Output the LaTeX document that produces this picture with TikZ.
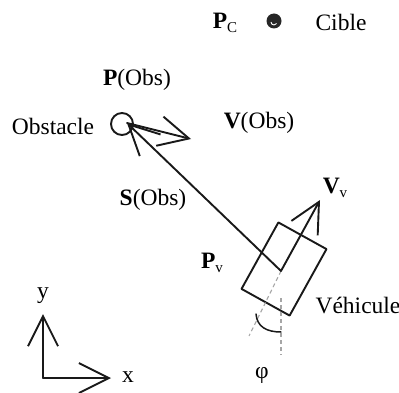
\documentclass[tikz,border=0pt]{standalone}
\usepackage{fontspec}
\setmainfont{Liberation Serif}
\usetikzlibrary{arrows.meta}
\newcommand\sbs[1]{\raisebox{-0.35ex}{\fontsize{15}{15}\selectfont #1}}
\begin{document}
\begin{tikzpicture}[x=1pt,y=-1pt,
  lbl/.style={inner sep=1pt,font=\fontsize{23.5}{25}\selectfont},
  ln/.style={line width=1.9pt,draw=black!90,line join=round,line cap=round},
  arr/.style={ln,-{Straight Barb[length=30pt,width=30pt,line width=1.9pt]}},
  dsh/.style={line width=1.1pt,draw=black!35,dash pattern=on 4pt off 3pt}]
\useasboundingbox (0,0) rectangle (399,393);
% labels
\node[lbl] (pc) at (225,23) {\textbf{P}\sbs{C}};
\node[circle,fill=black!85,minimum size=15pt,inner sep=0] (cible) at (274,21) {};
\draw[white,line width=0.9pt] (cible.center) ++(-3,1) arc[start angle=180,end angle=330,radius=3pt];
\node[lbl] (ciblelbl) at (341,22) {Cible};
\node[lbl] (pobs) at (137,80) {\textbf{P}(Obs)};
\node[lbl] (obstxt) at (53,126) {Obstacle};
\node[lbl] (vobs) at (259,123) {\textbf{V}(Obs)};
\node[lbl] (sobs) at (153,200) {\textbf{S}(Obs)};
\node[lbl] (vvlbl) at (335,188) {\textbf{V}\sbs{v}};
\node[lbl] (pvlbl) at (212,263) {\textbf{P}\sbs{v}};
\node[lbl] (vehtxt) at (358,306) {Véhicule};
\node[lbl] (phi) at (262,375) {φ};
\node[lbl] (ylbl) at (43,296) {y};
\node[lbl] (xlbl) at (128,377) {x};
% obstacle
\node[circle,ln,draw,minimum size=22pt,inner sep=0] (obs) at (122,124) {};
\coordinate (obstip) at (127,123);
\coordinate (vobstip) at (191,139);
% vehicle
\node[ln,draw,rotate=-29,minimum width=55pt,minimum height=76pt,inner sep=0] (veh) at (284,269) {};
\coordinate (pv) at (281,271);
\coordinate (vvtip) at (320,200);
\coordinate (rear) at (249,336);
\coordinate (vtop) at (281,298);
\coordinate (vbot) at (281,355);
% dashed reference lines and angle
\draw[dsh] (pv) -- (rear);
\draw[dsh] (vtop) -- (vbot);
\draw[ln,line width=1.5pt] (256,314) .. controls (257,327) and (267,332) .. (281,332);
% vectors
\draw[arr] (pv) -- (obstip);
\draw[arr] (obstip) -- (vobstip);
\draw[arr] (pv) -- (vvtip);
% axes
\coordinate (origin) at (43,378);
\coordinate (ytip) at (43,314);
\coordinate (xtip) at (111,378);
\draw[arr] (origin) -- (ytip);
\draw[arr] (origin) -- (xtip);
\end{tikzpicture}
\end{document}
